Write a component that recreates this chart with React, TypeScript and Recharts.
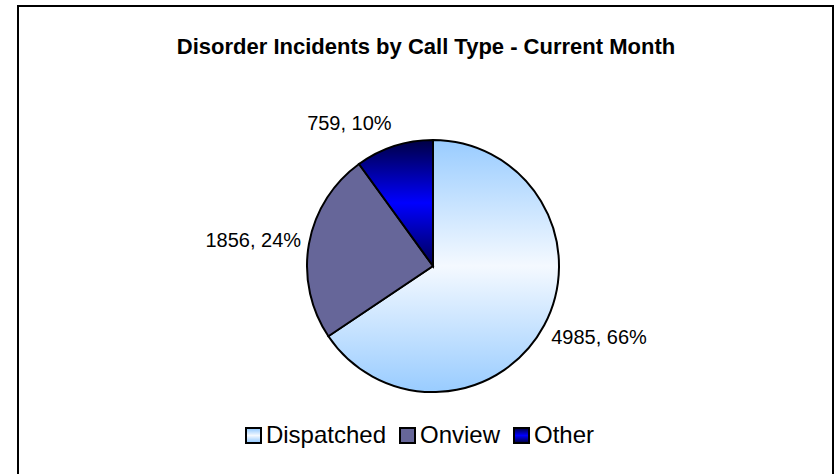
import React from 'react';
import { PieChart, Pie, Cell, Legend } from 'recharts';

const title = 'Disorder Incidents by Call Type - Current Month';
const categories = ['Dispatched', 'Onview', 'Other'];
const values = [4985, 1856, 759];
const fills = ['url(#gradDispatched)', '#666699', 'url(#gradOther)'];
const legendFills = [
  'linear-gradient(to bottom, #99CCFF, #F4F9FF 50%, #99CCFF)',
  '#666699',
  'linear-gradient(to bottom, #000055, #0000FF 50%, #000055)',
];

const data = categories.map((name, i) => ({ name, value: values[i] }));

const FONT = '"Liberation Sans", Arial, sans-serif';
const RAD = Math.PI / 180;

const renderLabel = (props: any) => {
  const { cx, cy, midAngle, outerRadius, value, percent } = props;
  const r = outerRadius + 8;
  const cos = Math.cos(-midAngle * RAD);
  const sin = Math.sin(-midAngle * RAD);
  const x = cx + r * cos;
  const y = cy + r * sin;
  const anchor = cos >= 0 ? 'start' : 'end';
  const yc = y + sin * 16;
  return (
    <text
      x={x}
      y={yc}
      textAnchor={anchor}
      dominantBaseline="central"
      fontFamily={FONT}
      fontSize={20}
      fill="#000"
    >
      {`${value}, ${Math.round(percent * 100)}%`}
    </text>
  );
};

const renderLegend = () => (
  <div
    style={{
      display: 'flex',
      justifyContent: 'center',
      alignItems: 'center',
      fontFamily: FONT,
      fontSize: 24,
      color: '#000',
      lineHeight: '24px',
      paddingLeft: 2,
    }}
  >
    {categories.map((c, i) => (
      <div key={c} style={{ display: 'flex', alignItems: 'center', marginRight: i < categories.length - 1 ? 13 : 0 }}>
        <div
          style={{
            width: 13,
            height: 13,
            border: '2px solid #000',
            background: legendFills[i],
            marginRight: 4,
          }}
        />
        <span>{c}</span>
      </div>
    ))}
  </div>
);

export default function App() {
  return (
    <div style={{ position: 'absolute', left: 0, top: 0, width: 837, height: 474, background: '#fff', overflow: 'hidden' }}>
      <svg width={0} height={0} style={{ position: 'absolute' }}>
        <defs>
          <linearGradient id="gradDispatched" x1="0" y1="0" x2="0" y2="1">
            <stop offset="0%" stopColor="#99CCFF" />
            <stop offset="50%" stopColor="#F4F9FF" />
            <stop offset="100%" stopColor="#99CCFF" />
          </linearGradient>
          <linearGradient id="gradOther" x1="0" y1="0" x2="0" y2="1">
            <stop offset="0%" stopColor="#000044" />
            <stop offset="50%" stopColor="#0000FF" />
            <stop offset="100%" stopColor="#000055" />
          </linearGradient>
        </defs>
      </svg>
      <div
        style={{
          position: 'absolute',
          left: 17,
          top: 5,
          width: 817,
          height: 480,
          border: '2px solid #000',
          boxSizing: 'border-box',
        }}
      />
      <div
        style={{
          position: 'absolute',
          left: 17,
          width: 818,
          top: 34,
          textAlign: 'center',
          fontFamily: FONT,
          fontWeight: 'bold',
          fontSize: 22,
          lineHeight: '26px',
          color: '#000',
        }}
      >
        {title}
      </div>
      <div style={{ position: 'absolute', left: 0, top: 0 }}>
        <PieChart width={837} height={474} margin={{ top: 0, right: 0, bottom: 0, left: 0 }}>
          <Pie
            data={data}
            dataKey="value"
            nameKey="name"
            cx={433}
            cy={266}
            outerRadius={126}
            startAngle={90}
            endAngle={-270}
            stroke="#000"
            strokeWidth={2}
            label={renderLabel}
            labelLine={false}
            isAnimationActive={false}
          >
            {data.map((d, i) => (
              <Cell key={d.name} fill={fills[i]} />
            ))}
          </Pie>
          <Legend content={renderLegend} wrapperStyle={{ top: 423, left: 0, width: 837 }} />
        </PieChart>
      </div>
    </div>
  );
}
